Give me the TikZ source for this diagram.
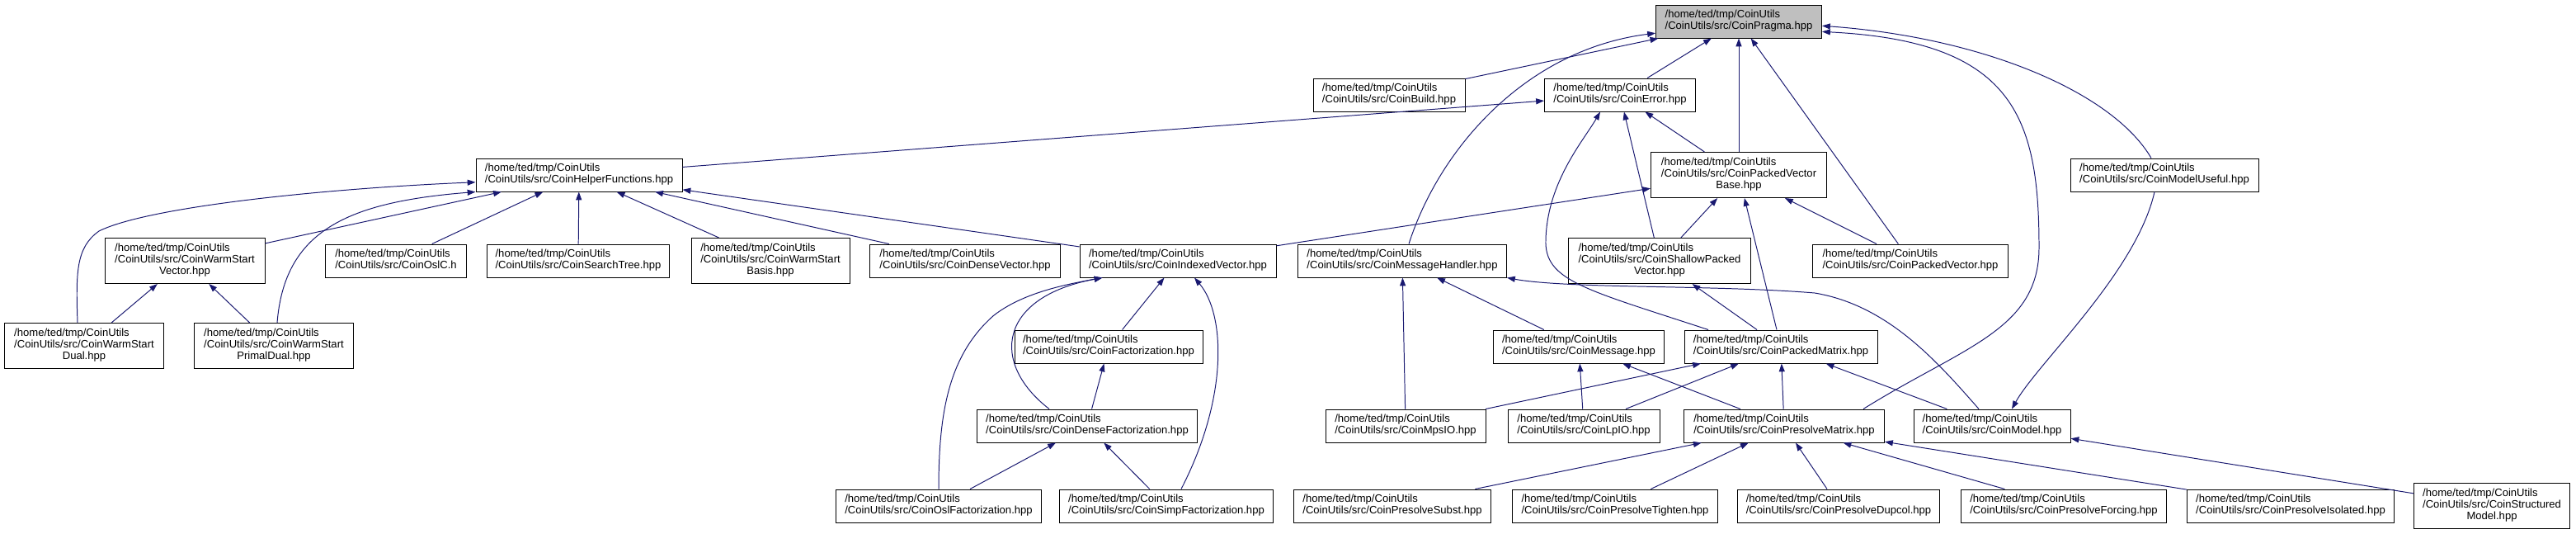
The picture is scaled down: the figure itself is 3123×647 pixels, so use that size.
\documentclass[tikz,border=0pt]{standalone}
\usepackage{fontspec}
\setmainfont{Liberation Sans}
\usepackage{tikz}
\usetikzlibrary{arrows.meta}
\definecolor{depblue}{HTML}{191970}
\definecolor{rootgray}{HTML}{BFBFBF}
\newcommand{\fpath}[1]{\begin{tabular}{@{}l@{}}#1\end{tabular}}
\newcommand{\fmid}[1]{\multicolumn{1}{@{}c@{}}{#1}}

\begin{document}
\begin{tikzpicture}[x=0.25mm, y=-0.25mm, >={Triangle[length=7pt,width=5pt]},
  file/.style={draw=black, line width=0.7pt, fill=white, inner xsep=3pt, inner ysep=1pt, minimum height=10mm, font=\fontsize{9.3}{9.9}\selectfont},
  tall/.style={minimum height=13.75mm},
  dep/.style={->, draw=depblue, line width=0.7pt}]
\useasboundingbox (0,0) rectangle (3123,647);

\node[name=coin_pragma, file, fill=rootgray, minimum width=50.25mm] at (2108,26) {\fpath{/home/ted/tmp/CoinUtils\\/CoinUtils/src/CoinPragma.hpp}};
\node[name=coin_build, file, minimum width=46mm] at (1684,115) {\fpath{/home/ted/tmp/CoinUtils\\/CoinUtils/src/CoinBuild.hpp}};
\node[name=coin_error, file, minimum width=45.75mm] at (1964,115) {\fpath{/home/ted/tmp/CoinUtils\\/CoinUtils/src/CoinError.hpp}};
\node[name=coin_helper, file, minimum width=62.5mm] at (702,212) {\fpath{/home/ted/tmp/CoinUtils\\/CoinUtils/src/CoinHelperFunctions.hpp}};
\node[name=coin_pv_base, file, tall, minimum width=53.25mm] at (2108,212) {\fpath{/home/ted/tmp/CoinUtils\\/CoinUtils/src/CoinPackedVector\\\fmid{Base.hpp}}};
\node[name=coin_model_useful, file, minimum width=57mm] at (2624,212) {\fpath{/home/ted/tmp/CoinUtils\\/CoinUtils/src/CoinModelUseful.hpp}};

\node[name=coin_ws_vector, file, tall, minimum width=48.5mm] at (224,316) {\fpath{/home/ted/tmp/CoinUtils\\/CoinUtils/src/CoinWarmStart\\\fmid{Vector.hpp}}};
\node[name=coin_osl_c, file, minimum width=42.75mm] at (480,316) {\fpath{/home/ted/tmp/CoinUtils\\/CoinUtils/src/CoinOslC.h}};
\node[name=coin_search_tree, file, minimum width=55.25mm] at (701,316) {\fpath{/home/ted/tmp/CoinUtils\\/CoinUtils/src/CoinSearchTree.hpp}};
\node[name=coin_ws_basis, file, tall, minimum width=48mm] at (934,316) {\fpath{/home/ted/tmp/CoinUtils\\/CoinUtils/src/CoinWarmStart\\\fmid{Basis.hpp}}};
\node[name=coin_dense_vector, file, minimum width=57.75mm] at (1170,316) {\fpath{/home/ted/tmp/CoinUtils\\/CoinUtils/src/CoinDenseVector.hpp}};
\node[name=coin_indexed_vector, file, minimum width=59.5mm] at (1428,316) {\fpath{/home/ted/tmp/CoinUtils\\/CoinUtils/src/CoinIndexedVector.hpp}};
\node[name=coin_msg_handler, file, minimum width=63.25mm] at (1700,316) {\fpath{/home/ted/tmp/CoinUtils\\/CoinUtils/src/CoinMessageHandler.hpp}};
\node[name=coin_shallow, file, tall, minimum width=55.25mm] at (2012,316) {\fpath{/home/ted/tmp/CoinUtils\\/CoinUtils/src/CoinShallowPacked\\\fmid{Vector.hpp}}};
\node[name=coin_packed_vector, file, minimum width=59.25mm] at (2316,316) {\fpath{/home/ted/tmp/CoinUtils\\/CoinUtils/src/CoinPackedVector.hpp}};

\node[name=coin_ws_dual, file, tall, minimum width=48.25mm] at (102,419) {\fpath{/home/ted/tmp/CoinUtils\\/CoinUtils/src/CoinWarmStart\\\fmid{Dual.hpp}}};
\node[name=coin_ws_primal, file, tall, minimum width=48.25mm] at (332,419) {\fpath{/home/ted/tmp/CoinUtils\\/CoinUtils/src/CoinWarmStart\\\fmid{PrimalDual.hpp}}};
\node[name=coin_fact, file, minimum width=57mm] at (1344,420) {\fpath{/home/ted/tmp/CoinUtils\\/CoinUtils/src/CoinFactorization.hpp}};
\node[name=coin_message, file, minimum width=51.75mm] at (1914,420) {\fpath{/home/ted/tmp/CoinUtils\\/CoinUtils/src/CoinMessage.hpp}};
\node[name=coin_packed_matrix, file, minimum width=58.5mm] at (2159,420) {\fpath{/home/ted/tmp/CoinUtils\\/CoinUtils/src/CoinPackedMatrix.hpp}};

\node[name=coin_dense_fact, file, minimum width=66.75mm] at (1318,516) {\fpath{/home/ted/tmp/CoinUtils\\/CoinUtils/src/CoinDenseFactorization.hpp}};
\node[name=coin_mps_io, file, minimum width=48.5mm] at (1704,516) {\fpath{/home/ted/tmp/CoinUtils\\/CoinUtils/src/CoinMpsIO.hpp}};
\node[name=coin_lp_io, file, minimum width=46mm] at (1920,516) {\fpath{/home/ted/tmp/CoinUtils\\/CoinUtils/src/CoinLpIO.hpp}};
\node[name=coin_presolve_matrix, file, minimum width=60.75mm] at (2163,516) {\fpath{/home/ted/tmp/CoinUtils\\/CoinUtils/src/CoinPresolveMatrix.hpp}};
\node[name=coin_model, file, minimum width=47.5mm] at (2415,516) {\fpath{/home/ted/tmp/CoinUtils\\/CoinUtils/src/CoinModel.hpp}};

\node[name=coin_osl_fact, file, minimum width=62.25mm] at (1138,613) {\fpath{/home/ted/tmp/CoinUtils\\/CoinUtils/src/CoinOslFactorization.hpp}};
\node[name=coin_simp_fact, file, minimum width=64.75mm] at (1414,613) {\fpath{/home/ted/tmp/CoinUtils\\/CoinUtils/src/CoinSimpFactorization.hpp}};
\node[name=coin_ps_subst, file, minimum width=59.75mm] at (1688,613) {\fpath{/home/ted/tmp/CoinUtils\\/CoinUtils/src/CoinPresolveSubst.hpp}};
\node[name=coin_ps_tighten, file, minimum width=62.25mm] at (1958,613) {\fpath{/home/ted/tmp/CoinUtils\\/CoinUtils/src/CoinPresolveTighten.hpp}};
\node[name=coin_ps_dupcol, file, minimum width=61.25mm] at (2229,613) {\fpath{/home/ted/tmp/CoinUtils\\/CoinUtils/src/CoinPresolveDupcol.hpp}};
\node[name=coin_ps_forcing, file, minimum width=62.25mm] at (2502,613) {\fpath{/home/ted/tmp/CoinUtils\\/CoinUtils/src/CoinPresolveForcing.hpp}};
\node[name=coin_ps_isolated, file, minimum width=62.75mm] at (2777,613) {\fpath{/home/ted/tmp/CoinUtils\\/CoinUtils/src/CoinPresolveIsolated.hpp}};
\node[name=coin_structured, file, tall, minimum width=47.25mm] at (3021,613) {\fpath{/home/ted/tmp/CoinUtils\\/CoinUtils/src/CoinStructured\\\fmid{Model.hpp}}};

\draw(coin_build) edge[dep](coin_pragma);
\draw(coin_error) edge[dep](coin_pragma);
\draw(coin_pv_base) edge[dep](coin_pragma);
\draw(coin_packed_vector) edge[dep](coin_pragma);
\draw[dep]([xshift=2mm]coin_msg_handler.north) .. controls (1745,180) and (1850,60) .. (coin_pragma.-172);
\draw[dep]([xshift=-4mm]coin_model_useful.north) .. controls (2560,110) and (2400,45) .. (coin_pragma.-3);
\draw[dep]([xshift=24mm]coin_presolve_matrix.north) .. controls (2380,420) and (2472,400) .. (2472,300) .. controls (2472,140) and (2440,50) .. (coin_pragma.-7);

\draw(coin_helper) edge[dep](coin_error);
\draw(coin_pv_base) edge[dep](coin_error);
\draw(coin_shallow) edge[dep](coin_error);
\draw[dep]([xshift=-22mm]coin_packed_matrix.north) .. controls (1920,350) and (1872,340) .. (1874,290) .. controls (1876,220) and (1920,170) .. ([xshift=-6mm]coin_error.south);

\draw(coin_ws_vector) edge[dep](coin_helper);
\draw(coin_osl_c) edge[dep](coin_helper);
\draw(coin_search_tree) edge[dep](coin_helper);
\draw(coin_ws_basis) edge[dep](coin_helper);
\draw(coin_dense_vector) edge[dep](coin_helper);
\draw(coin_indexed_vector) edge[dep](coin_helper);
\draw[dep]([xshift=-2mm]coin_ws_dual.north) .. controls (92,330) and (92,300) .. (120,280) .. controls (180,250) and (400,228) .. (coin_helper.-176);
\draw[dep]([xshift=1mm]coin_ws_primal.north) .. controls (345,280) and (420,245) .. (coin_helper.south west);

\draw(coin_ws_dual) edge[dep](coin_ws_vector);
\draw(coin_ws_primal) edge[dep](coin_ws_vector);

\draw(coin_indexed_vector) edge[dep](coin_pv_base);
\draw(coin_shallow) edge[dep](coin_pv_base);
\draw(coin_packed_matrix) edge[dep](coin_pv_base);
\draw(coin_packed_vector) edge[dep](coin_pv_base);

\draw(coin_fact) edge[dep](coin_indexed_vector);
\draw[dep](coin_osl_fact.north) .. controls (1138,500) and (1150,430) .. (1205,382) .. controls (1240,355) and (1290,345) .. ([xshift=7mm]coin_indexed_vector.south west);
\draw[dep]([xshift=-11.5mm]coin_dense_fact.north) .. controls (1200,440) and (1210,360) .. ([xshift=7mm]coin_indexed_vector.south west);
\draw[dep]([xshift=4.5mm]coin_simp_fact.north) .. controls (1490,480) and (1485,380) .. ([xshift=5mm]coin_indexed_vector.south);

\draw(coin_dense_fact) edge[dep](coin_fact);
\draw(coin_osl_fact) edge[dep](coin_dense_fact);
\draw(coin_simp_fact) edge[dep](coin_dense_fact);

\draw(coin_mps_io) edge[dep](coin_msg_handler);
\draw(coin_message) edge[dep](coin_msg_handler);
\draw[dep]([xshift=-4mm]coin_model.north) .. controls (2350,440) and (2290,370) .. (2200,355) .. controls (2080,345) and (1900,350) .. (coin_msg_handler.south east);

\draw(coin_lp_io) edge[dep](coin_message);
\draw(coin_presolve_matrix) edge[dep](coin_message);

\draw(coin_packed_matrix) edge[dep](coin_shallow);

\draw(coin_mps_io) edge[dep](coin_packed_matrix);
\draw(coin_lp_io) edge[dep](coin_packed_matrix);
\draw(coin_presolve_matrix) edge[dep](coin_packed_matrix);
\draw(coin_model) edge[dep](coin_packed_matrix);

\draw(coin_ps_subst) edge[dep](coin_presolve_matrix);
\draw(coin_ps_tighten) edge[dep](coin_presolve_matrix);
\draw(coin_ps_dupcol) edge[dep](coin_presolve_matrix);
\draw(coin_ps_forcing) edge[dep](coin_presolve_matrix);
\draw(coin_ps_isolated) edge[dep](coin_presolve_matrix);

\draw(coin_structured) edge[dep](coin_model);
\draw[dep]([xshift=-3mm]coin_model_useful.south) .. controls (2590,330) and (2470,440) .. ([xshift=6mm]coin_model.north);
\end{tikzpicture}
\end{document}
